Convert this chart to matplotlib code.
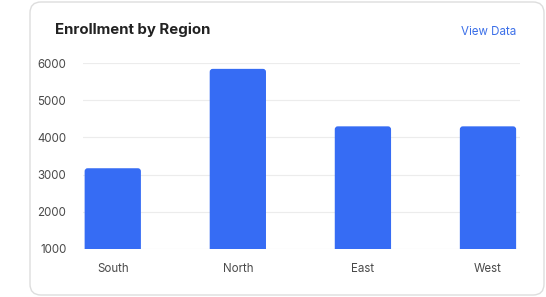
import numpy as np
import matplotlib.pyplot as plt
from matplotlib.patches import FancyBboxPatch

# data
regions = ["South", "North", "East", "West"]
enrollment = [3170, 5850, 4300, 4300]
yticks = [1000, 2000, 3000, 4000, 5000, 6000]

plt.rcParams["font.family"] = ["Inter", "DejaVu Sans"]

W, H = 546, 297
fig = plt.figure(figsize=(W / 100, H / 100), dpi=100)

# card background
card = FancyBboxPatch((30 / W, 2 / H), 514 / W, 293 / H,
                      boxstyle="round,pad=0,rounding_size=0.02",
                      transform=fig.transFigure, facecolor="white",
                      edgecolor="#dddddd", linewidth=1.0,
                      mutation_aspect=W / H, zorder=-1)
fig.patches.append(card)

fig.text(55 / W, 1 - 34 / H, "Enrollment by Region", fontsize=10.8,
         fontweight="bold", color="#222222", va="baseline")
fig.text(516 / W, 1 - 35 / H, "View Data", fontsize=8.3,
         color="#3b6fe8", ha="right", va="baseline")

ax = fig.add_axes([83 / W, 48.3 / H, 437 / W, 185.4 / H])

x = np.arange(len(regions))
bars = ax.bar(x, enrollment, width=0.45, bottom=0, color="#366cf4")

# swap square bars for ones with rounded top corners
px_x = 125.0
px_y = 185.4 / 5000
for b in bars:
    b.set_visible(False)
    r = FancyBboxPatch((b.get_x(), b.get_y()), b.get_width(), b.get_height(),
                       boxstyle="round,pad=0,rounding_size=%f" % (3 / px_x),
                       mutation_aspect=px_x / px_y,
                       facecolor="#366cf4", edgecolor="none", zorder=3)
    ax.add_patch(r)

ax.set_xlim(-0.238, 3.256)
ax.set_ylim(1000, 6000)
ax.set_yticks(yticks)
ax.set_xticks(x)
ax.set_xticklabels(regions)
ax.tick_params(length=0, labelsize=8.3, colors="#4a4a4a")
ax.tick_params(axis="y", pad=12)
ax.tick_params(axis="x", pad=10)
ax.grid(axis="y", color="#ececec", linewidth=0.8)
ax.set_axisbelow(True)
for s in ax.spines.values():
    s.set_visible(False)
ax.patch.set_alpha(0)

fig.savefig("out.png", dpi=100)
